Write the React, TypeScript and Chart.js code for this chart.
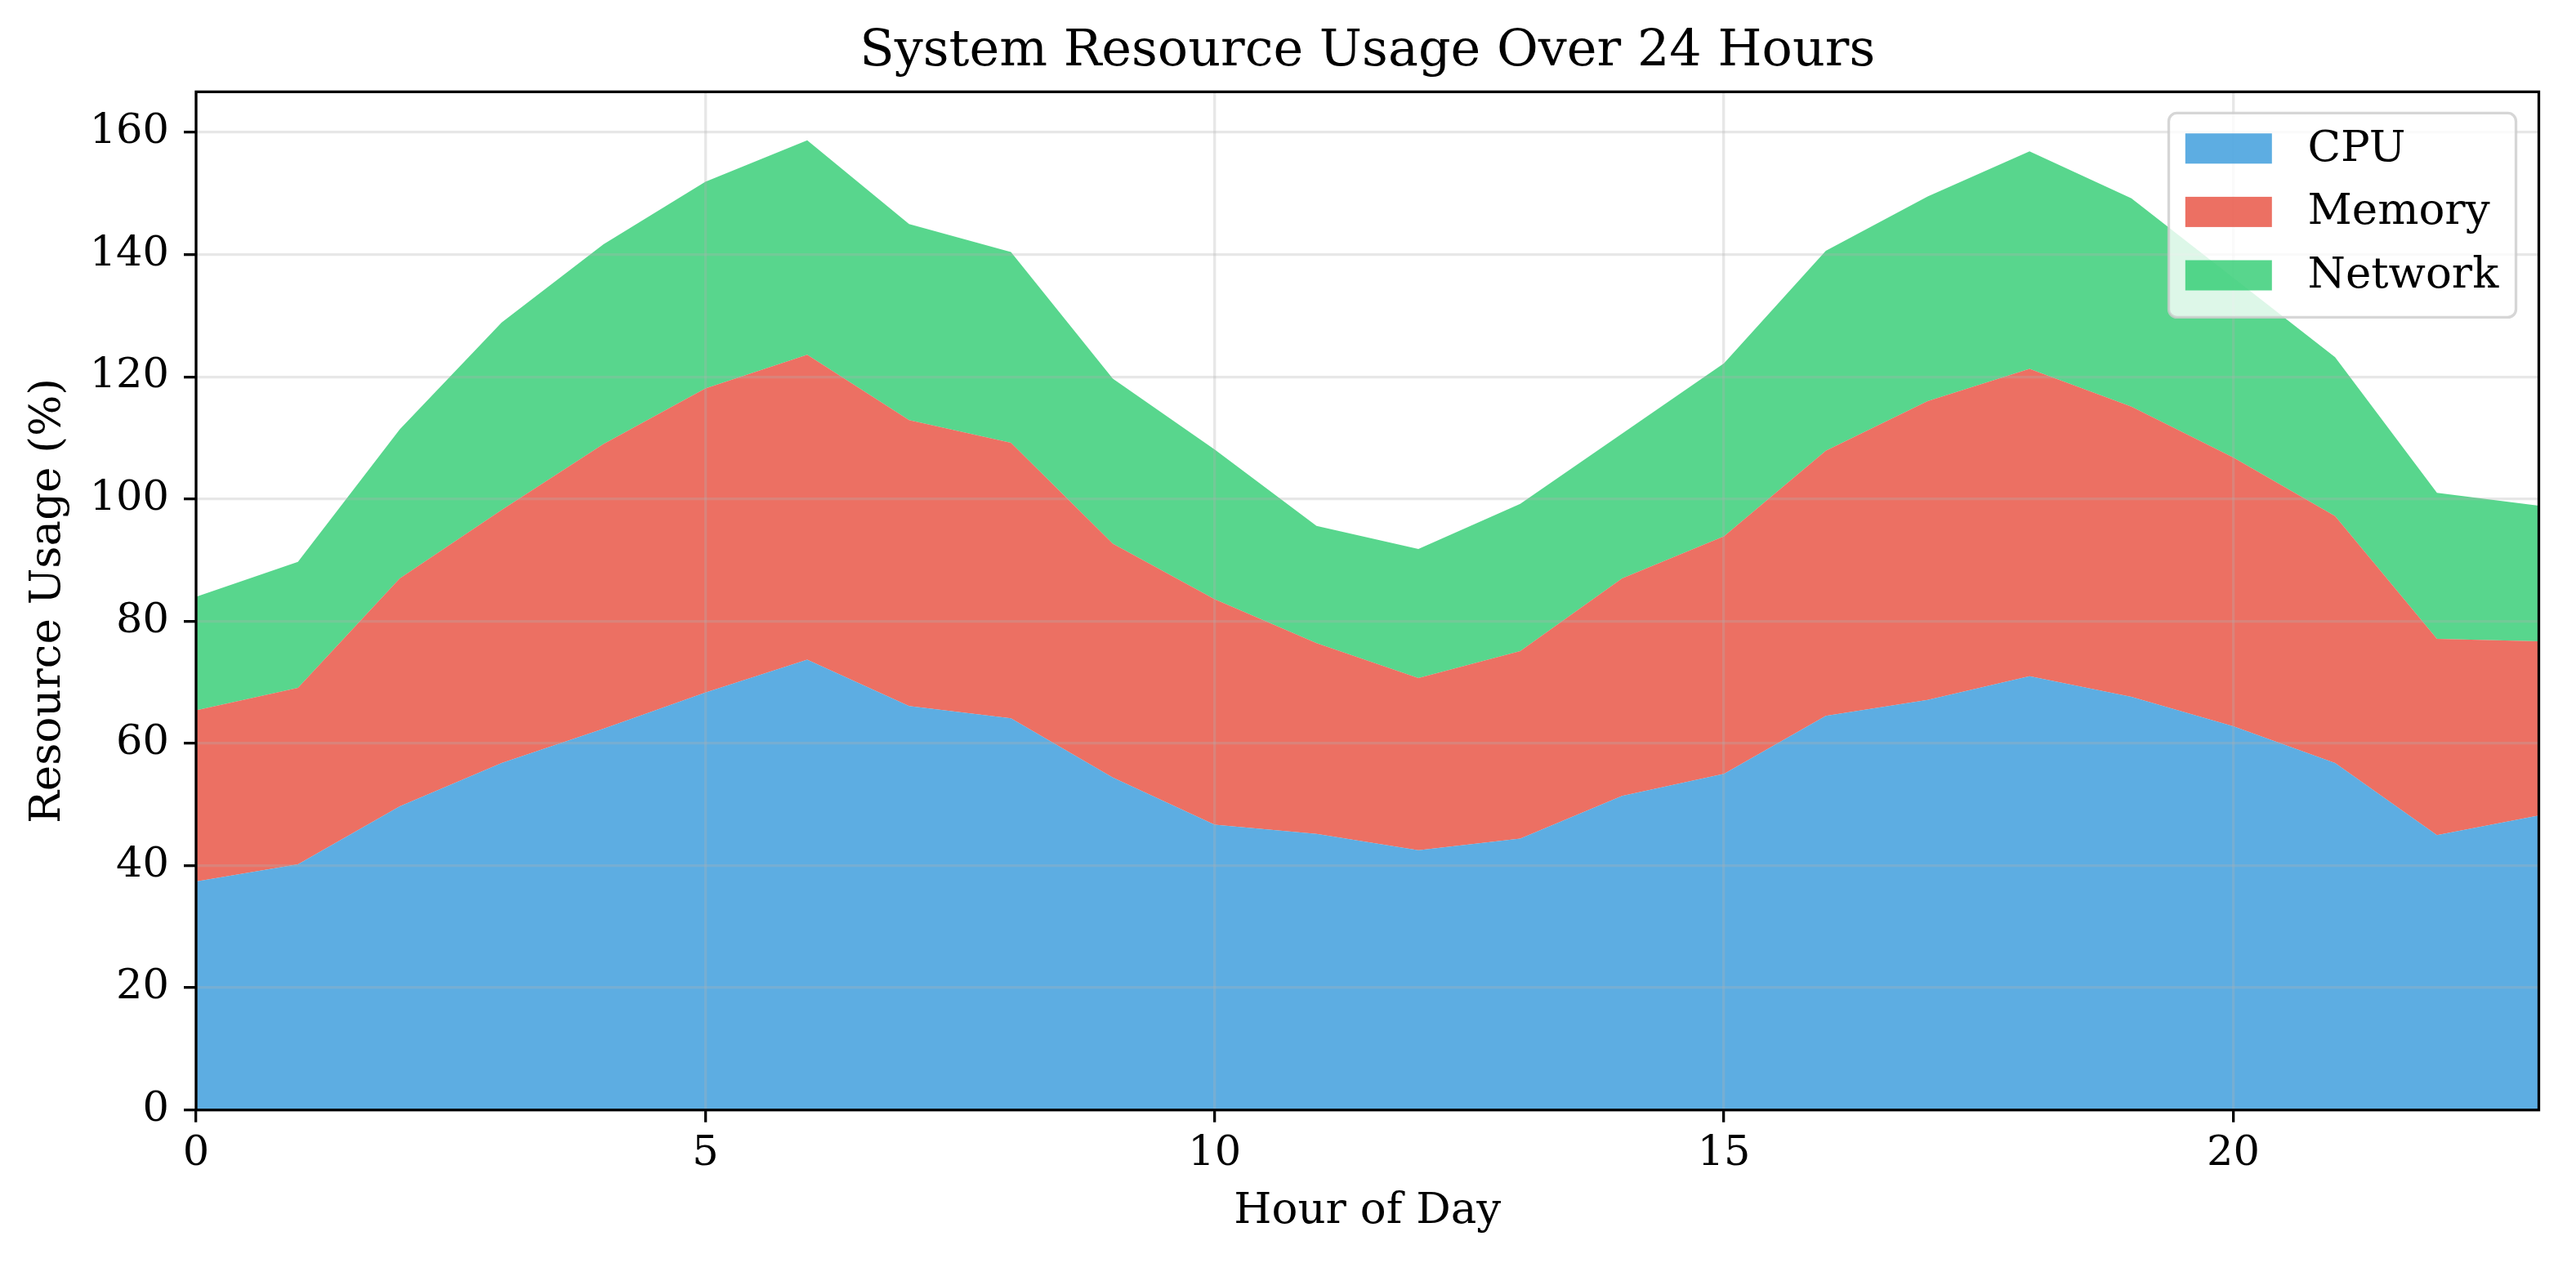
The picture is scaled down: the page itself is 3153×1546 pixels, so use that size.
import React, { useEffect, useRef } from 'react';
import { Chart, registerables } from 'chart.js';

Chart.register(...registerables);

// ---- data ----
const hours = [0, 1, 2, 3, 4, 5, 6, 7, 8, 9, 10, 11, 12, 13, 14, 15, 16, 17, 18, 19, 20, 21, 22, 23];
const cpu = [37.4, 40.2, 49.7, 56.8, 62.4, 68.3, 73.7, 66.1, 64.1, 54.4, 46.7, 45.2, 42.5, 44.4, 51.4, 55.0, 64.5, 67.1, 71.0, 67.6, 62.8, 56.8, 45.0, 48.2];
const memory = [28.0, 28.9, 37.3, 41.4, 46.6, 49.8, 49.9, 46.8, 45.1, 38.3, 36.9, 31.2, 28.2, 30.7, 35.6, 38.9, 43.4, 48.9, 50.3, 47.5, 44.0, 40.4, 32.1, 28.5];
const network = [18.6, 20.6, 24.4, 30.7, 32.7, 33.8, 35.1, 32.1, 31.2, 27.0, 24.5, 19.2, 21.1, 24.1, 23.7, 28.3, 32.7, 33.5, 35.6, 34.1, 29.4, 26.0, 23.9, 22.2];
const seriesLabels = ['CPU', 'Memory', 'Network'];
const seriesColors = ['rgba(52,152,219,0.8)', 'rgba(231,76,60,0.8)', 'rgba(46,204,113,0.8)'];
const xTicks = [0, 5, 10, 15, 20];
const yTicks = [0, 20, 40, 60, 80, 100, 120, 140, 160];
const chartTitle = 'System Resource Usage Over 24 Hours';
const xTitle = 'Hour of Day';
const yTitle = 'Resource Usage (%)';

const W = 3153;
const H = 1546;
const FAMILY = "'DejaVu Serif', serif";

const mplFramePlugin = {
  id: 'mplFrame',
  afterDraw(chart: any) {
    const { ctx, chartArea: a } = chart;
    ctx.save();
    // axes spines (full box)
    ctx.strokeStyle = '#000';
    ctx.lineWidth = 3.3;
    ctx.strokeRect(a.left, a.top, a.right - a.left, a.bottom - a.top);

    // legend (upper right, inside the axes)
    const bw = 425;
    const bh = 250;
    const bx = a.right - 28 - bw;
    const by = a.top + 26;
    ctx.beginPath();
    if ((ctx as any).roundRect) (ctx as any).roundRect(bx, by, bw, bh, 10);
    else ctx.rect(bx, by, bw, bh);
    ctx.fillStyle = 'rgba(255,255,255,0.8)';
    ctx.fill();
    ctx.lineWidth = 3.3;
    ctx.strokeStyle = 'rgba(204,204,204,0.8)';
    ctx.stroke();

    ctx.font = `53px ${FAMILY}`;
    ctx.textBaseline = 'middle';
    ctx.textAlign = 'left';
    chart.data.datasets.forEach((ds: any, i: number) => {
      const cy = by + 43.4 + i * 77.6;
      ctx.fillStyle = ds.backgroundColor;
      ctx.fillRect(bx + 20.3, cy - 18.5, 106, 37);
      ctx.fillStyle = '#000';
      ctx.fillText(ds.label, bx + 170, cy + 1);
    });
    ctx.restore();
  },
};

export default function App() {
  const ref = useRef<HTMLCanvasElement>(null);

  useEffect(() => {
    const canvas = ref.current;
    if (!canvas) return;
    const totals = hours.map((_, i) => cpu[i] + memory[i] + network[i]);
    const yMax = Math.max(...totals) * 1.05;
    const series = [cpu, memory, network];

    const gridOpts = {
      display: true,
      color: 'rgba(176,176,176,0.3)',
      lineWidth: 3.3,
      drawTicks: true,
      tickLength: 15,
      tickWidth: 3.3,
      tickColor: '#000',
      z: 1,
    };

    const chart = new Chart(canvas, {
      type: 'line',
      data: {
        labels: hours,
        datasets: series.map((d, i) => ({
          label: seriesLabels[i],
          data: d,
          backgroundColor: seriesColors[i],
          borderColor: 'rgba(0,0,0,0)',
          borderWidth: 0,
          pointRadius: 0,
          pointHoverRadius: 0,
          tension: 0,
          fill: i === 0 ? 'origin' : '-1',
        })),
      },
      options: {
        responsive: false,
        animation: false,
        devicePixelRatio: 1,
        events: [],
        layout: { padding: { left: 0, right: 45.5, top: 0, bottom: 0 } },
        plugins: {
          legend: { display: false },
          tooltip: { enabled: false },
          title: {
            display: true,
            text: chartTitle,
            fullSize: false,
            color: '#000',
            font: { family: FAMILY, size: 62, weight: 'normal' },
            padding: { top: 26.3, bottom: 11.7 },
          },
        },
        scales: {
          x: {
            type: 'linear',
            min: 0,
            max: 23,
            bounds: 'data',
            afterBuildTicks: (s: any) => {
              s.ticks = xTicks.map((v) => ({ value: v }));
            },
            afterFit: (s: any) => {
              s.height = 187.3;
            },
            grid: gridOpts,
            border: { display: false },
            ticks: {
              color: '#000',
              font: { family: FAMILY, size: 51 },
              padding: 8.3,
              maxRotation: 0,
              autoSkip: false,
            },
            title: {
              display: true,
              text: xTitle,
              color: '#000',
              font: { family: FAMILY, size: 53 },
              padding: { top: 0, bottom: 31.4 },
            },
          },
          y: {
            type: 'linear',
            stacked: true,
            min: 0,
            max: yMax,
            bounds: 'data',
            afterBuildTicks: (s: any) => {
              s.ticks = yTicks.map((v) => ({ value: v }));
            },
            afterFit: (s: any) => {
              s.width = 240;
            },
            grid: gridOpts,
            border: { display: false },
            ticks: {
              color: '#000',
              font: { family: FAMILY, size: 51 },
              padding: 18,
              autoSkip: false,
            },
            title: {
              display: true,
              text: yTitle,
              color: '#000',
              font: { family: FAMILY, size: 53 },
              padding: { top: 27.7, bottom: 0 },
            },
          },
        },
      } as any,
      plugins: [mplFramePlugin],
    });

    return () => chart.destroy();
  }, []);

  return (
    <div style={{ position: 'fixed', left: 0, top: 0, width: W, height: H, background: '#fff' }}>
      <canvas ref={ref} width={W} height={H} style={{ width: W, height: H, display: 'block' }} />
    </div>
  );
}
